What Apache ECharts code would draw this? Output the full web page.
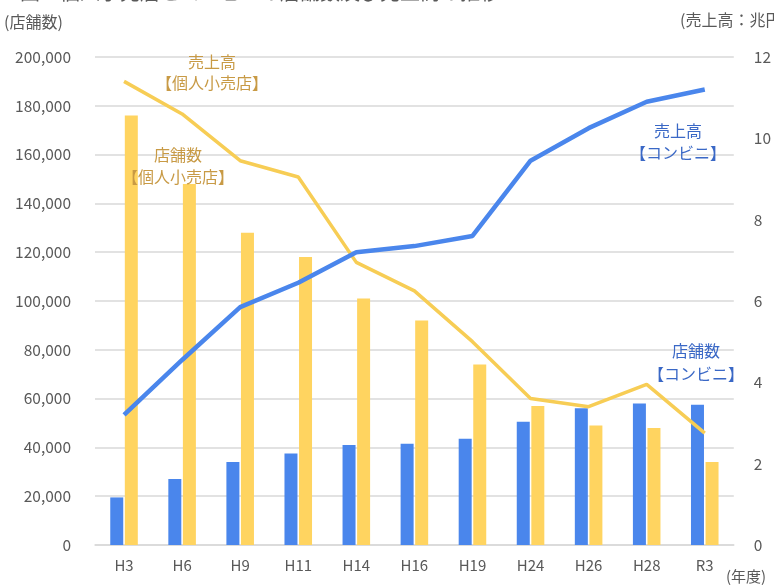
<!DOCTYPE html>
<html><head><meta charset="utf-8">
<script src="https://cdn.jsdelivr.net/npm/echarts@6/dist/echarts.min.js"></script>
<style>html,body{margin:0;padding:0;background:#fff}#c{width:774px;height:587px}</style>
</head><body><div id="c"></div>
<script>
const categories = ['H3','H6','H9','H11','H14','H16','H19','H24','H26','H28','R3'];
const storesConv = [19500,27000,34000,37500,41000,41500,43500,50500,56000,58000,57500];
const storesRetail = [176000,148000,128000,118000,101000,92000,74000,57000,49000,48000,34000];
const salesConv = [3.2,4.55,5.85,6.45,7.2,7.35,7.6,9.45,10.25,10.9,11.2];
const salesRetail = [11.4,10.6,9.45,9.05,6.95,6.25,5.0,3.6,3.4,3.95,2.75];
const leftTicks = {min:0,max:200000,interval:20000};
const rightTicks = {min:0,max:12,interval:2};

const BLUE='#4a86ec', YEL='#ffd460', YLINE='#f7cd55';
const ORTXT='#c89a45', BLTXT='#3a68c6', GRAY='#595959';
const font = '"Noto Sans CJK JP", "Noto Sans", sans-serif';
const chart = echarts.init(document.getElementById('c'));
function txt(x,y,t,c,size,align){return {type:'text',x:x,y:y,z:100,zlevel:1,style:{text:t,fill:c,font:(size||16)+'px '+font,textAlign:align||'center',textVerticalAlign:'middle'}};}
chart.setOption({
  animation:false,
  textStyle:{fontFamily:font},
  grid:{left:95,right:36,top:57,bottom:42},
  xAxis:{type:'category',data:categories,axisTick:{show:false},
    axisLine:{lineStyle:{color:'#d9d9d9',width:1.5}},
    axisLabel:{color:GRAY,fontSize:15,margin:13,fontFamily:font}},
  yAxis:[
    {type:'value',min:leftTicks.min,max:leftTicks.max,interval:leftTicks.interval,
     axisLabel:{color:GRAY,fontSize:15.5,margin:24,fontFamily:font,formatter:v=>v.toLocaleString('en-US')},
     splitLine:{lineStyle:{color:'#d9d9d9',width:1.5}},axisLine:{show:false},axisTick:{show:false}},
    {type:'value',min:rightTicks.min,max:rightTicks.max,interval:rightTicks.interval,
     axisLabel:{color:GRAY,fontSize:15.5,margin:20,fontFamily:font,align:'left'},
     splitLine:{show:false},axisLine:{show:false},axisTick:{show:false}}
  ],
  series:[
    {type:'bar',data:storesConv,barWidth:13,barGap:'12%',itemStyle:{color:BLUE}},
    {type:'bar',data:storesRetail,barWidth:13,barGap:'12%',itemStyle:{color:YEL}},
    {type:'line',yAxisIndex:1,data:salesRetail,showSymbol:false,symbol:'none',lineStyle:{color:YLINE,width:3.5},z:3},
    {type:'line',yAxisIndex:1,data:salesConv,showSymbol:false,symbol:'none',lineStyle:{color:BLUE,width:4.5},z:4}
  ],
  graphic:[
    txt(4,22,'(店舗数)',GRAY,16,'left'),
    txt(680,20,'(売上高：兆円)',GRAY,16,'left'),
    txt(726,576,'(年度)',GRAY,15,'left'),
    txt(20,-8,'図　個人小売店とコンビニの店舗数及び売上高の推移',GRAY,20,'left'),
    txt(212,62,'売上高',ORTXT),
    txt(212,83,'【個人小売店】',ORTXT),
    txt(178,155,'店舗数',ORTXT),
    txt(178,177,'【個人小売店】',ORTXT),
    txt(678,131,'売上高',BLTXT),
    txt(678,153,'【コンビニ】',BLTXT),
    txt(696,351,'店舗数',BLTXT),
    txt(696,374,'【コンビニ】',BLTXT)
  ]
});
</script></body></html>
